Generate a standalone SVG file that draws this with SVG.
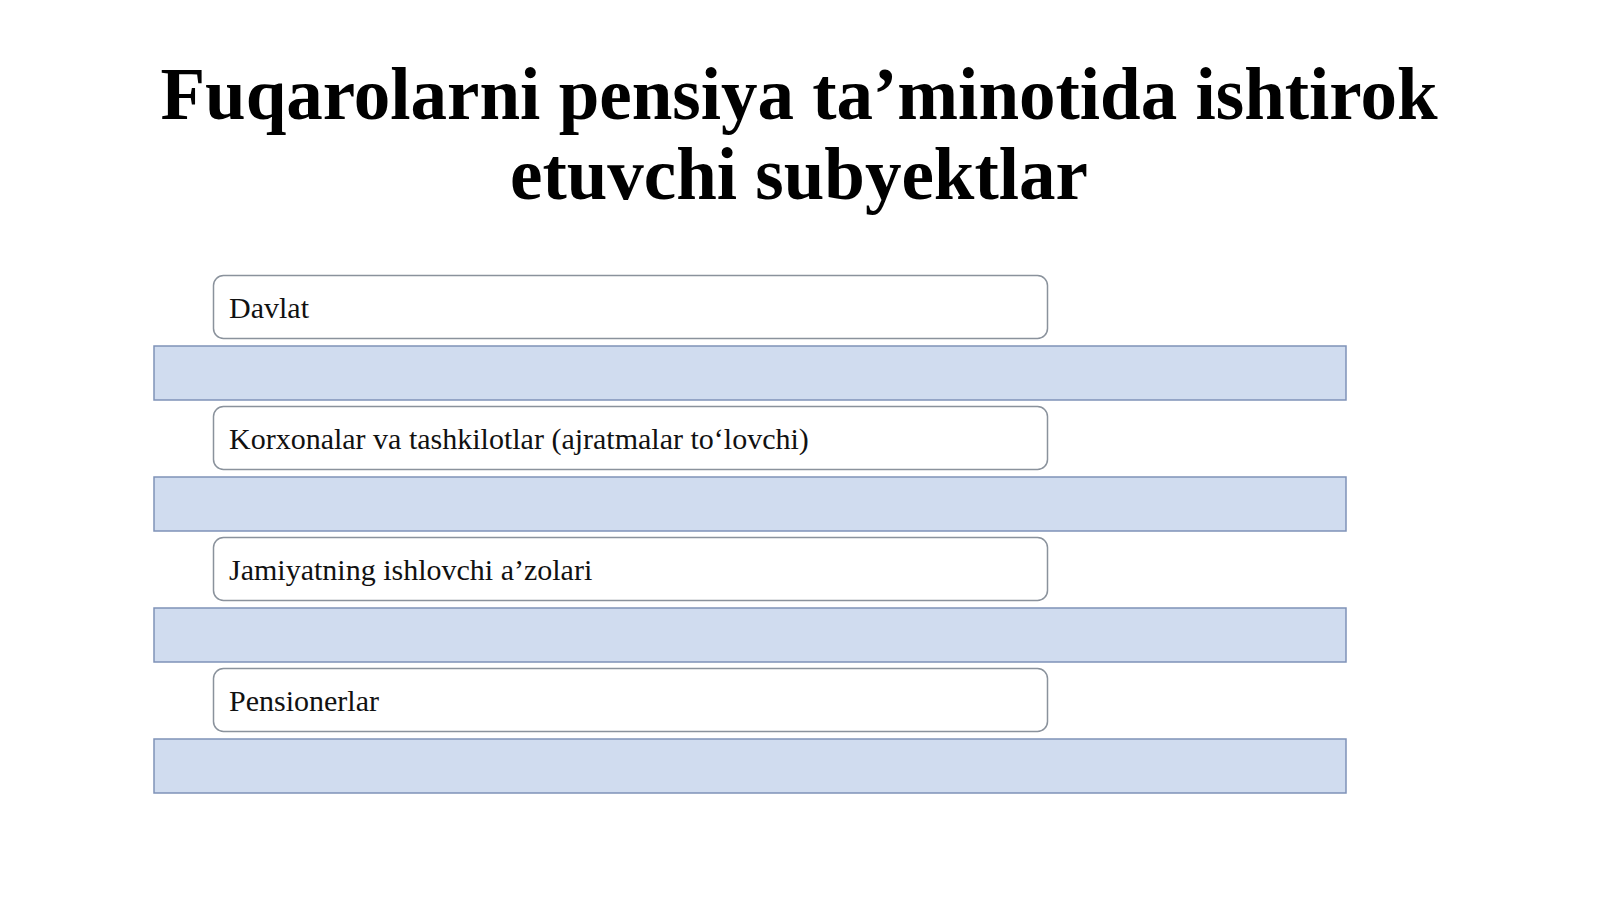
<svg xmlns="http://www.w3.org/2000/svg" width="1600" height="899" viewBox="0 0 1600 899">
<style>
.title{font-family:"Liberation Serif","Times New Roman",serif;font-weight:bold;font-size:73px;fill:#000;text-anchor:middle}
.bar{fill:#d0dcef;stroke:#7f92b8;stroke-width:1.5}
.box{fill:#fff;stroke:#8a929c;stroke-width:1.5}
.lbl{font-family:"Liberation Serif","Times New Roman",serif;font-size:30px;fill:#111}
</style>
<rect width="1600" height="899" fill="#fff"/>
<g id="title">
<text class="title" x="799" y="119">Fuqarolarni pensiya ta’minotida ishtirok</text>
<text class="title" x="799" y="199">etuvchi subyektlar</text>
</g>
<g id="connectors"></g>
<g id="bars">
<rect class="bar" x="154" y="346" width="1192" height="54"/>
<rect class="bar" x="154" y="477" width="1192" height="54"/>
<rect class="bar" x="154" y="608" width="1192" height="54"/>
<rect class="bar" x="154" y="739" width="1192" height="54"/>
</g>
<g id="node1"><rect class="box" x="213.5" y="275.5" width="834" height="63" rx="10"/><text class="lbl" x="229" y="318">Davlat</text></g>
<g id="node2"><rect class="box" x="213.5" y="406.5" width="834" height="63" rx="10"/><text class="lbl" x="229" y="449">Korxonalar va tashkilotlar (ajratmalar to‘lovchi)</text></g>
<g id="node3"><rect class="box" x="213.5" y="537.5" width="834" height="63" rx="10"/><text class="lbl" x="229" y="580">Jamiyatning ishlovchi a’zolari</text></g>
<g id="node4"><rect class="box" x="213.5" y="668.5" width="834" height="63" rx="10"/><text class="lbl" x="229" y="711">Pensionerlar</text></g>
</svg>
